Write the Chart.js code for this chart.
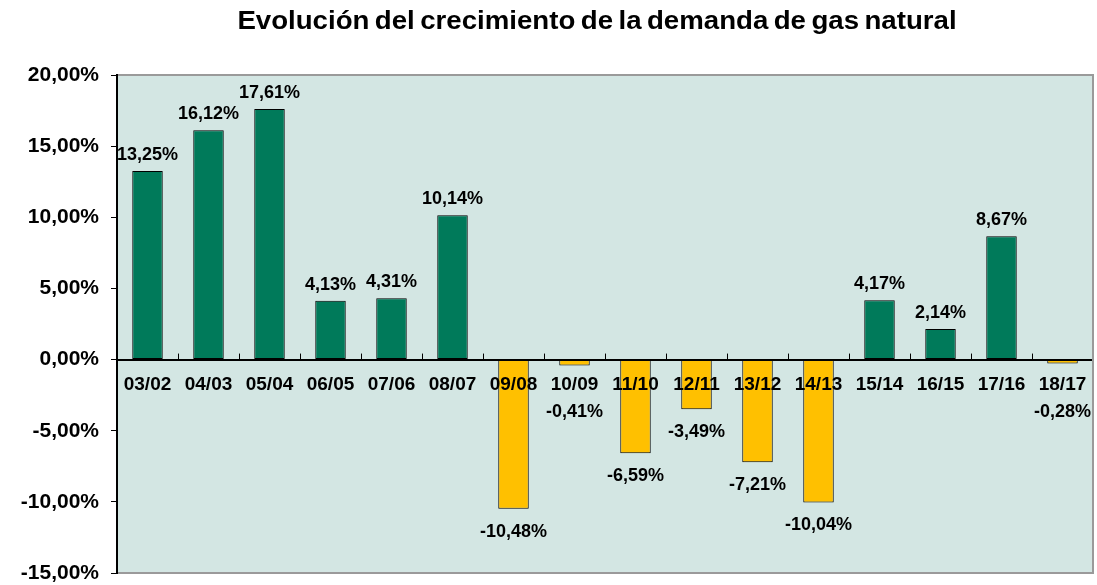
<!DOCTYPE html>
<html>
<head>
<meta charset="utf-8">
<script src="https://cdn.jsdelivr.net/npm/chart.js@4.4.1/dist/chart.umd.min.js"></script>
<style>
  html, body { margin: 0; padding: 0; background: #ffffff; }
  #wrap { width: 1097px; height: 585px; position: relative; }
</style>
</head>
<body>
<div id="wrap"><canvas id="c" width="1097" height="585"></canvas></div>
<script>
const chartTitle = 'Evolución del crecimiento de la demanda de gas natural';
const categories = ['03/02','04/03','05/04','06/05','07/06','08/07','09/08','10/09','11/10','12/11','13/12','14/13','15/14','16/15','17/16','18/17'];
const growth = [13.25, 16.12, 17.61, 4.13, 4.31, 10.14, -10.48, -0.41, -6.59, -3.49, -7.21, -10.04, 4.17, 2.14, 8.67, -0.28];
const yTicks = [20, 15, 10, 5, 0, -5, -10, -15];

const GREEN = '#007a5a';
const YELLOW = '#ffc000';
const BG = '#d3e6e3';
const FONT = "'Liberation Sans', Arial, sans-serif";

function fmt(v) {
  return v.toFixed(2).replace('.', ',') + '%';
}

const decor = {
  id: 'decor',
  beforeDraw(chart) {
    const {ctx, chartArea: a} = chart;
    ctx.save();
    ctx.fillStyle = BG;
    ctx.fillRect(a.left, a.top, a.right - a.left, a.bottom - a.top);
    ctx.restore();
  },
  beforeDatasetsDraw(chart) {
    const {ctx, scales: {x, y}} = chart;
    const y0 = y.getPixelForValue(0);
    ctx.save();
    ctx.strokeStyle = '#000';
    ctx.lineWidth = 1;
    for (let i = 0; i <= categories.length; i++) {
      const px = Math.round(x.left + i * (x.width / categories.length)) + 0.5;
      ctx.beginPath();
      ctx.moveTo(px, y0 - 6);
      ctx.lineTo(px, y0);
      ctx.stroke();
    }
    ctx.restore();
  },
  afterDraw(chart) {
    const {ctx, chartArea: a, scales: {x, y}} = chart;
    ctx.save();
    ctx.strokeStyle = '#9a9a9a';
    ctx.lineWidth = 2;
    ctx.beginPath();
    ctx.moveTo(a.left, a.top);
    ctx.lineTo(a.right, a.top);
    ctx.lineTo(a.right, a.bottom);
    ctx.lineTo(a.left, a.bottom);
    ctx.stroke();
    ctx.strokeStyle = '#000';
    ctx.beginPath();
    ctx.moveTo(a.left, a.top - 1);
    ctx.lineTo(a.left, a.bottom + 1);
    ctx.stroke();

    // data labels
    ctx.fillStyle = '#000';
    ctx.font = 'bold 18px ' + FONT;
    ctx.textAlign = 'center';
    ctx.textBaseline = 'middle';
    const y0 = y.getPixelForValue(0);
    const meta = chart.getDatasetMeta(0);
    meta.data.forEach((bar, i) => {
      const v = growth[i];
      let ly;
      if (v >= 0) {
        ly = bar.y - 16;
      } else {
        ly = Math.max(bar.y + 23, y0 + 52);
      }
      ctx.fillText(fmt(v), bar.x, ly);
    });

    // title (slightly stretched like the original rendering)
    ctx.font = 'bold 25px ' + FONT;
    ctx.textAlign = 'center';
    ctx.textBaseline = 'alphabetic';
    try { ctx.wordSpacing = '-2px'; } catch (e) {}
    ctx.translate(597, 29);
    ctx.scale(1.105, 1);
    ctx.fillText(chartTitle, 0, 0);
    ctx.restore();
  }
};

new Chart(document.getElementById('c'), {
  type: 'bar',
  data: {
    labels: categories,
    datasets: [{
      data: growth,
      backgroundColor: growth.map(v => v >= 0 ? GREEN : YELLOW),
      borderColor: '#000000',
      borderWidth: 1,
      borderSkipped: false,
      barPercentage: 0.5,
      categoryPercentage: 1.0
    }]
  },
  options: {
    responsive: false,
    animation: false,
    devicePixelRatio: 1,
    layout: { padding: { top: 75, right: 4, bottom: 12, left: 0 } },
    plugins: {
      legend: { display: false },
      title: { display: false },
      tooltip: { enabled: false }
    },
    scales: {
      x: {
        position: { y: 0 },
        offset: true,
        afterFit(scale) { scale.height = 0; scale.paddingLeft = 0; scale.paddingRight = 0; },
        grid: { display: true, drawOnChartArea: false, drawTicks: false },
        border: { display: true, color: '#000000', width: 2, z: 1 },
        ticks: {
          z: 1,
          color: '#000000',
          font: { family: FONT, size: 19, weight: 'bold' },
          padding: 14,
          maxRotation: 0,
          autoSkip: false
        }
      },
      y: {
        min: -15,
        max: 20,
        afterFit(scale) { scale.width = 117; scale.paddingTop = 0; scale.paddingBottom = 0; },
        afterBuildTicks(scale) { scale.ticks = yTicks.map(v => ({ value: v })); },
        grid: { display: true, drawOnChartArea: false, drawTicks: true, tickLength: 6, color: '#000000' },
        border: { display: true, color: '#000000', width: 2 },
        ticks: {
          color: '#000000',
          font: { family: FONT, size: 21, weight: 'bold' },
          padding: 12,
          callback: v => fmt(v)
        }
      }
    }
  },
  plugins: [decor]
});
</script>
</body>
</html>
